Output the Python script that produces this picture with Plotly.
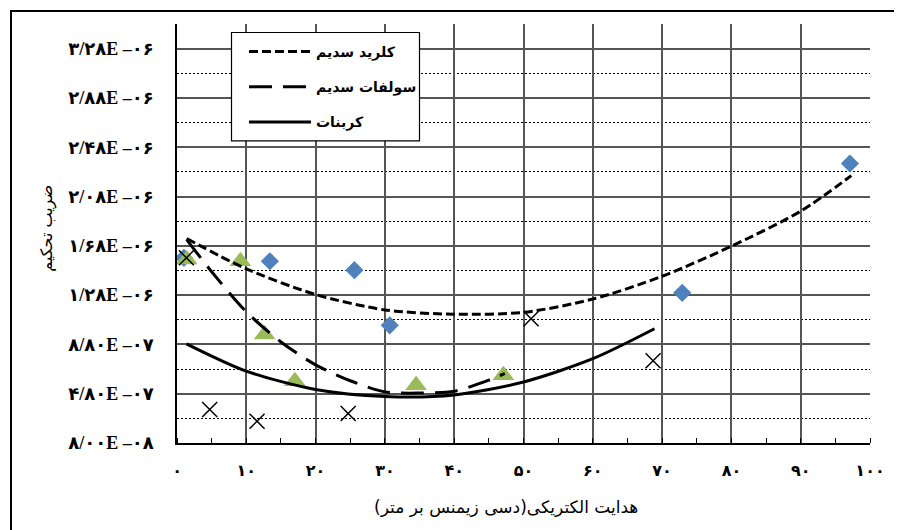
import plotly.graph_objects as go

# ---------------- data ----------------
# measured points (x: electrical conductivity dS/m, y: consolidation coefficient)
nacl_x = [1.0, 13.4, 25.6, 30.7, 72.9, 97.1]
nacl_y = [1.583e-6, 1.555e-6, 1.482e-6, 1.035e-6, 1.299e-6, 2.348e-6]

sulfate_x = [1.4, 9.15, 12.65, 17.0, 34.5, 47.1]
sulfate_y = [1.569e-6, 1.555e-6, 0.960e-6, 0.581e-6, 0.548e-6, 0.630e-6]

carb_x = [1.36, 4.72, 11.55, 24.7, 51.1, 68.7]
carb_y = [1.583e-6, 0.352e-6, 0.257e-6, 0.319e-6, 1.088e-6, 0.748e-6]

# trend curves
nacl_trend_x = [1.4, 10, 20, 30, 40, 50, 60, 70, 80, 90, 97.3]
nacl_trend_y = [1.739e-6, 1.493e-6, 1.285e-6, 1.160e-6, 1.125e-6, 1.140e-6,
                1.248e-6, 1.433e-6, 1.677e-6, 1.961e-6, 2.250e-6]

sulfate_trend_x = [1.4, 5, 10, 15, 20, 25, 30, 35, 40, 45, 47.3]
sulfate_trend_y = [1.731e-6, 1.470e-6, 1.145e-6, 0.900e-6, 0.714e-6, 0.585e-6,
                   0.495e-6, 0.485e-6, 0.500e-6, 0.590e-6, 0.645e-6]

carb_trend_x = [1.36, 10, 20, 30, 40, 50, 60, 68.9]
carb_trend_y = [0.885e-6, 0.663e-6, 0.514e-6, 0.457e-6, 0.470e-6, 0.575e-6,
                0.764e-6, 1.007e-6]

series_names = ["کلرید سدیم", "سولفات سدیم", "کربنات"]

x_tick_vals = [0, 10, 20, 30, 40, 50, 60, 70, 80, 90, 100]
x_tick_labels = ["۰", "۱۰", "۲۰", "۳۰", "۴۰", "۵۰", "۶۰", "۷۰", "۸۰", "۹۰", "۱۰۰"]

y_tick_vals = [0.08e-6, 0.48e-6, 0.88e-6, 1.28e-6, 1.68e-6, 2.08e-6, 2.48e-6, 2.88e-6, 3.28e-6]
y_tick_labels = ["۸/۰۰E –۰۸", "۴/۸۰E –۰۷", "۸/۸۰E –۰۷", "۱/۲۸E –۰۶", "۱/۶۸E –۰۶",
                 "۲/۰۸E –۰۶", "۲/۴۸E –۰۶", "۲/۸۸E –۰۶", "۳/۲۸E –۰۶"]
y_minor_vals = [0.28e-6, 0.68e-6, 1.08e-6, 1.48e-6, 1.88e-6, 2.28e-6, 2.68e-6, 3.08e-6, 3.48e-6]

x_title = "هدایت الکتریکی(دسی زیمنس بر متر)"
y_title = "ضریب تحکیم"

# ---------------- figure ----------------
fig = go.Figure()

fig.add_trace(go.Scatter(x=nacl_x, y=nacl_y, mode="markers", showlegend=False,
                         marker=dict(symbol="diamond", size=14, color="#4F81BD")))
fig.add_trace(go.Scatter(x=sulfate_x, y=sulfate_y, mode="markers", showlegend=False,
                         marker=dict(symbol="triangle-up", size=19, color="#9BBB59")))
fig.add_trace(go.Scatter(x=carb_x, y=carb_y, mode="markers", showlegend=False,
                         marker=dict(symbol="x-thin", size=15,
                                     line=dict(color="black", width=1.5))))

fig.add_trace(go.Scatter(x=nacl_trend_x, y=nacl_trend_y, mode="lines", name=series_names[0],
                         legendgroup="a", line=dict(color="black", width=3, dash="9px,4px",
                                                    shape="spline", smoothing=0.8)))
fig.add_trace(go.Scatter(x=sulfate_trend_x, y=sulfate_trend_y, mode="lines", name=series_names[1],
                         legendgroup="b", line=dict(color="black", width=3, dash="23px,11px",
                                                    shape="spline", smoothing=0.8)))
fig.add_trace(go.Scatter(x=carb_trend_x, y=carb_trend_y, mode="lines", name=series_names[2],
                         legendgroup="c", line=dict(color="black", width=3,
                                                    shape="spline", smoothing=0.8)))

# page body adds an 8px offset; layout is specified in screen pixels and shifted
OFF = 8
W, H = 902, 530
PL, PR, PT, PB = 177, 870, 24, 443.5          # plot area on screen
L, R = PL - OFF, W - (PR - OFF)
T, B = PT - OFF, H - (PB - OFF)
pw, ph = PR - PL, PB - PT


def sx(px):
    return (px - PL) / pw


def sy(py):
    return (PB - py) / ph


fig.update_layout(
    width=W, height=H,
    margin=dict(l=L, r=R, t=T, b=B, pad=0),
    paper_bgcolor="white", plot_bgcolor="white",
    showlegend=True,
    legend=dict(x=sx(244), y=sy(36), xanchor="left", yanchor="top",
                bgcolor="rgba(0,0,0,0)", borderwidth=0, itemwidth=62,
                tracegroupgap=14, traceorder="grouped",
                font=dict(family="DejaVu Sans", size=14, color="black", weight="bold")),
    shapes=[
        dict(type="rect", xref="paper", yref="paper",
             x0=sx(231.5), x1=sx(419.5), y0=sy(141), y1=sy(32.5),
             line=dict(color="black", width=1.2), fillcolor="white", layer="above"),
        dict(type="rect", xref="paper", yref="paper",
             x0=sx(11), x1=sx(925), y0=sy(560), y1=sy(11),
             line=dict(color="black", width=2), fillcolor="rgba(0,0,0,0)", layer="above"),
    ],
    annotations=[
        dict(text=x_title, xref="paper", yref="paper", x=sx(506), y=sy(508),
             xanchor="center", yanchor="middle", showarrow=False,
             font=dict(family="DejaVu Sans", size=17, color="black")),
        dict(text=y_title, xref="paper", yref="paper", x=sx(47), y=sy(229),
             xanchor="center", yanchor="middle", showarrow=False, textangle=-90,
             font=dict(family="DejaVu Sans", size=16, color="black")),
    ],
)

fig.update_xaxes(
    range=[0, 100], tickmode="array", tickvals=x_tick_vals, ticktext=x_tick_labels,
    showgrid=True, gridcolor="#555555", gridwidth=1.5, zeroline=False,
    showline=True, linecolor="black", linewidth=2,
    ticks="", ticklabelstandoff=12,
    tickfont=dict(family="DejaVu Sans", size=16, color="black", weight="bold"),
    minor=dict(dtick=5, tick0=0, ticks="inside", ticklen=5, tickcolor="black",
               tickwidth=1, showgrid=False),
)

fig.update_yaxes(
    range=[0.08e-6, 3.48e-6], tickmode="array", tickvals=y_tick_vals, ticktext=y_tick_labels,
    showgrid=True, gridcolor="#555555", gridwidth=1.5, zeroline=False,
    showline=True, linecolor="black", linewidth=1.5,
    ticks="", ticklabelstandoff=18,
    tickfont=dict(family="Liberation Serif, DejaVu Sans", size=18, color="black", weight="bold"),
    minor=dict(tickmode="array", tickvals=y_minor_vals, showgrid=True,
               gridcolor="black", gridwidth=1, griddash="2px,2px", ticks=""),
)

fig.write_html("out.html")
